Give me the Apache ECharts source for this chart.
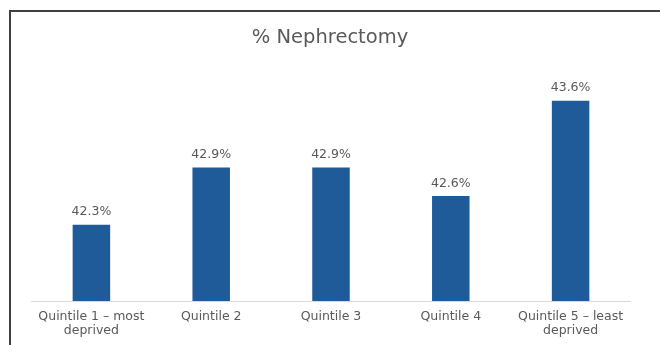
<!DOCTYPE html>
<html>
<head>
<meta charset="utf-8">
<script src="https://cdn.jsdelivr.net/npm/echarts@6/dist/echarts.min.js"></script>
<style>
html,body{margin:0;padding:0;background:#fff;}
#c{width:660px;height:345px;}
</style>
</head>
<body>
<div id="c"></div>
<script>
const title = '% Nephrectomy';
const categories = ['Quintile 1 – most deprived', 'Quintile 2', 'Quintile 3', 'Quintile 4', 'Quintile 5 – least deprived'];
const values = [42.3, 42.9, 42.9, 42.6, 43.6];

const chart = echarts.init(document.getElementById('c'), null, {renderer: 'canvas'});
const font = 'DejaVu Sans';
chart.setOption({
  animation: false,
  backgroundColor: '#fff',
  title: {
    text: title, left: 'center', top: 23,
    textStyle: {fontFamily: font, fontSize: 19.5, fontWeight: 'normal', color: '#595959'}
  },
  graphic: [{
    type: 'rect', shape: {x: 10, y: 11, width: 700, height: 400},
    style: {fill: 'none', stroke: '#404040', lineWidth: 2}, silent: true
  }],
  grid: {left: 31.5, right: 29.5, top: 62.5, bottom: 44},
  xAxis: {
    type: 'category', data: categories,
    axisLine: {lineStyle: {color: '#d9d9d9', width: 1}},
    axisTick: {show: false},
    axisLabel: {
      interval: 0, margin: 9, lineHeight: 13.5,
      fontFamily: font, fontSize: 12.5, color: '#595959',
      formatter: v => v.replace(/ (deprived)$/, '\n$1')
    }
  },
  yAxis: {type: 'value', min: 41.5, max: 44, show: false, splitLine: {show: false}},
  series: [{
    type: 'bar', data: values, barWidth: 37.5,
    itemStyle: {color: '#1f5b98'},
    label: {
      show: true, position: 'top', distance: 6,
      fontFamily: font, fontSize: 12.5, color: '#595959',
      formatter: p => p.value.toFixed(1) + '%'
    }
  }]
});
</script>
</body>
</html>
